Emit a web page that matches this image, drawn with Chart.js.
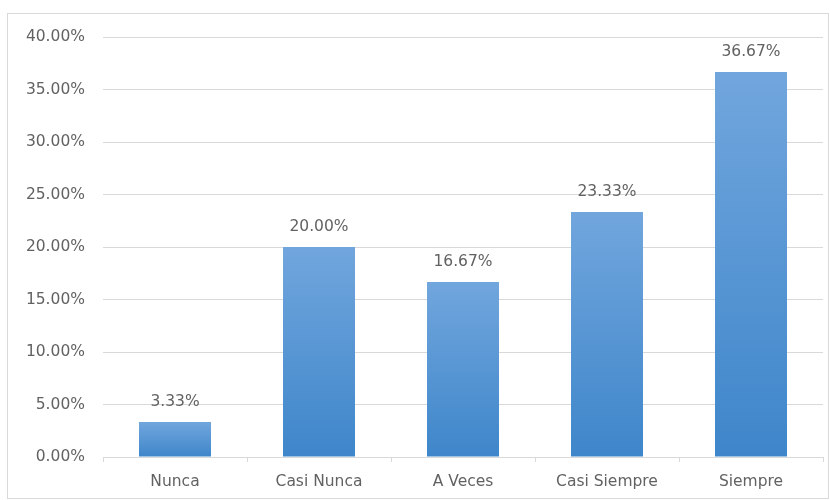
<!DOCTYPE html>
<html>
<head>
<meta charset="utf-8">
<script src="https://cdn.jsdelivr.net/npm/chart.js@4/dist/chart.umd.min.js"></script>
<style>
html,body{margin:0;padding:0;background:#fff;}
#wrap{width:830px;height:500px;position:relative;}
</style>
</head>
<body>
<div id="wrap"><canvas id="c" width="830" height="500"></canvas></div>
<script>
const categories = ['Nunca', 'Casi Nunca', 'A Veces', 'Casi Siempre', 'Siempre'];
const values = [3.33, 20.00, 16.67, 23.33, 36.67];
const yMin = 0, yMax = 40, yStep = 5;

const FONT = '"DejaVu Sans", "Open Sans", sans-serif';
const FSIZE = 15.5;
const TEXT = '#626262';
const GRID = '#d9d9d9';

function barGradient(ctx) {
  const chart = ctx.chart;
  if (ctx.type !== 'data' || !chart.chartArea) return '#5b9bd5';
  const y = chart.scales.y;
  const top = y.getPixelForValue(ctx.parsed ? ctx.parsed.y : values[ctx.dataIndex]);
  const bottom = y.getPixelForValue(0);
  const g = chart.ctx.createLinearGradient(0, top, 0, bottom);
  g.addColorStop(0, '#71a6dd');
  g.addColorStop(1, '#3e86ca');
  return g;
}

const frame = {
  id: 'frame',
  beforeDraw(chart) {
    const c = chart.ctx;
    c.save();
    c.fillStyle = '#fff';
    c.fillRect(0, 0, chart.width, chart.height);
    c.strokeStyle = '#d9d9d9';
    c.lineWidth = 1;
    c.strokeRect(7.5, 13.5, 821, 485);
    c.restore();
  }
};

const labels = {
  id: 'labels',
  afterDatasetsDraw(chart) {
    const c = chart.ctx;
    const meta = chart.getDatasetMeta(0);
    c.save();
    c.font = FSIZE + 'px ' + FONT;
    c.fillStyle = TEXT;
    c.textAlign = 'center';
    c.textBaseline = 'middle';
    meta.data.forEach((el, i) => {
      c.fillText(values[i].toFixed(2) + '%', el.x, el.y - 20);
    });
    c.restore();
  }
};

new Chart(document.getElementById('c'), {
  type: 'bar',
  data: {
    labels: categories,
    datasets: [{
      data: values,
      backgroundColor: barGradient,
      borderWidth: 0,
      barPercentage: 0.5,
      categoryPercentage: 1.0
    }]
  },
  options: {
    responsive: false,
    animation: false,
    devicePixelRatio: 1,
    layout: { padding: { top: 37, right: 7, bottom: 0, left: 0 } },
    plugins: { legend: { display: false }, tooltip: { enabled: false } },
    scales: {
      x: {
        grid: { drawOnChartArea: false, drawTicks: true, tickLength: 5, color: GRID, offset: true },
        border: { display: true, color: GRID },
        ticks: { color: TEXT, font: { family: FONT, size: FSIZE }, padding: 11 },
        afterFit(s) { s.height = 43; }
      },
      y: {
        min: yMin, max: yMax,
        grid: { color: GRID, drawTicks: false },
        border: { display: false },
        ticks: {
          stepSize: yStep,
          color: TEXT,
          font: { family: FONT, size: FSIZE },
          padding: 18,
          callback: v => v.toFixed(2) + '%'
        },
        afterFit(s) { s.width = 103; }
      }
    }
  },
  plugins: [frame, labels]
});
</script>
</body>
</html>
